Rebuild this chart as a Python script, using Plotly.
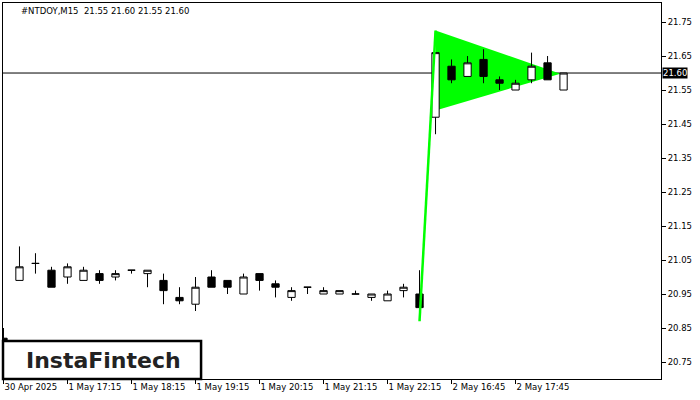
import plotly.graph_objects as go

# ---- data ----
candle_index = list(range(36))
open_ = [20.82, 20.99, 21.04, 21.02, 21.00, 20.99, 21.01, 21.00, 21.02, 21.01,
         20.99, 20.94, 20.92, 21.00, 20.99, 20.95, 21.01, 20.98, 20.94, 20.97,
         20.95, 20.95, 20.95, 20.94, 20.93, 20.96, 20.95, 21.47, 21.62, 21.59,
         21.64, 21.58, 21.55, 21.58, 21.63, 21.55]
high = [20.85, 21.09, 21.07, 21.03, 21.04, 21.03, 21.02, 21.02, 21.02, 21.02,
        21.01, 20.97, 21.00, 21.02, 20.99, 21.01, 21.01, 20.99, 20.97, 20.97,
        20.97, 20.96, 20.96, 20.95, 20.96, 20.98, 21.02, 21.66, 21.64, 21.65,
        21.67, 21.59, 21.58, 21.66, 21.65, 21.60]
low = [20.815, 20.99, 21.01, 20.97, 20.98, 20.99, 20.98, 20.99, 21.01, 20.97,
       20.92, 20.92, 20.90, 20.97, 20.95, 20.95, 20.96, 20.94, 20.93, 20.95,
       20.95, 20.95, 20.95, 20.93, 20.93, 20.94, 20.91, 21.42, 21.57, 21.59,
       21.57, 21.55, 21.55, 21.57, 21.58, 21.55]
close = [20.815, 21.03, 21.04, 20.97, 21.03, 21.02, 20.99, 21.01, 21.02, 21.02,
         20.96, 20.93, 20.97, 20.97, 20.97, 21.00, 20.99, 20.97, 20.96, 20.97,
         20.96, 20.96, 20.95, 20.95, 20.95, 20.97, 20.91, 21.66, 21.58, 21.63,
         21.59, 21.57, 21.57, 21.62, 21.58, 21.60]

# pennant pattern
pole_x = [26, 27]
pole_y = [20.87, 21.725]
pennant_x = [27, 27, 34.8]
pennant_y = [21.725, 21.49, 21.598]

bid_price = 21.60

y_tickvals = [20.75, 20.85, 20.95, 21.05, 21.15, 21.25, 21.35, 21.45, 21.55, 21.65, 21.75]
y_ticktext = ["%.2f" % v for v in y_tickvals]
x_tickvals = [0, 4, 8, 12, 16, 20, 24, 28, 32]
x_ticktext = ["30 Apr 2025", "1 May 17:15", "1 May 18:15", "1 May 19:15", "1 May 20:15",
              "1 May 21:15", "1 May 22:15", "2 May 16:45", "2 May 17:45"]

title_text = "#NTDOY,M15  21.55 21.60 21.55 21.60"
logo_text = "InstaFintech"

FONT = "DejaVu Sans"

fig = go.Figure()

fig.add_trace(go.Candlestick(
    x=candle_index, open=open_, high=high, low=low, close=close,
    increasing=dict(fillcolor="white", line=dict(color="black", width=1)),
    decreasing=dict(fillcolor="black", line=dict(color="black", width=1)),
    whiskerwidth=0, showlegend=False, hoverinfo="skip",
))

fig.add_trace(go.Scatter(
    x=pole_x, y=pole_y, mode="lines",
    line=dict(color="#00ff00", width=2.5), showlegend=False, hoverinfo="skip",
))

path = "M %s,%s L %s,%s L %s,%s Z" % (pennant_x[0], pennant_y[0], pennant_x[1], pennant_y[1],
                                       pennant_x[2], pennant_y[2])
shapes = [
    dict(type="path", path=path, xref="x", yref="y", fillcolor="#00ff00",
         line=dict(width=0), layer="below"),
    dict(type="line", xref="paper", x0=0, x1=1, yref="y", y0=bid_price, y1=bid_price,
         line=dict(color="black", width=1), layer="below"),
    dict(type="rect", xref="paper", yref="paper", x0=0, x1=0.301, y0=0, y1=0.101,
         fillcolor="white", line=dict(color="black", width=2.5), layer="above"),
]

annotations = [
    dict(text=title_text, xref="paper", yref="paper", x=0.0243, y=0.9787,
         xanchor="left", yanchor="middle", showarrow=False,
         font=dict(family=FONT, size=8.5, color="black")),
    dict(text="%.2f" % bid_price, xref="paper", yref="y", x=1, y=bid_price,
         xanchor="left", yanchor="middle", xshift=1, showarrow=False,
         bgcolor="black", borderpad=0,
         font=dict(family=FONT, size=8.5, color="white")),
    dict(text=logo_text, xref="paper", yref="paper", x=0.153, y=0.05,
         xanchor="center", yanchor="middle", showarrow=False,
         font=dict(family=FONT, size=22, color="#222222", weight="bold")),
]

fig.update_layout(
    width=700, height=400,
    margin=dict(l=3, r=39, t=3, b=21),
    paper_bgcolor="white", plot_bgcolor="white",
    boxgap=0.35,
    shapes=shapes, annotations=annotations,
    showlegend=False,
    xaxis=dict(
        range=[-0.03, 41.09], showgrid=False, zeroline=False,
        showline=True, mirror=True, linecolor="black", linewidth=1,
        ticks="outside", ticklen=4, tickcolor="black", tickwidth=1,
        tickvals=x_tickvals, ticktext=x_ticktext,
        ticklabelposition="outside right",
        tickfont=dict(family=FONT, size=8.5, color="black"),
        rangeslider=dict(visible=False), fixedrange=True,
    ),
    yaxis=dict(
        range=[20.700, 21.806], side="right", showgrid=False, zeroline=False,
        showline=True, mirror=True, linecolor="black", linewidth=1,
        ticks="outside", ticklen=4, tickcolor="black", tickwidth=1,
        tickvals=y_tickvals, ticktext=y_ticktext,
        tickfont=dict(family=FONT, size=8.5, color="black"), fixedrange=True,
    ),
)

fig.write_html("out.html", config={"displayModeBar": False},
               post_script="document.body.style.margin='0';document.body.style.padding='0';")
